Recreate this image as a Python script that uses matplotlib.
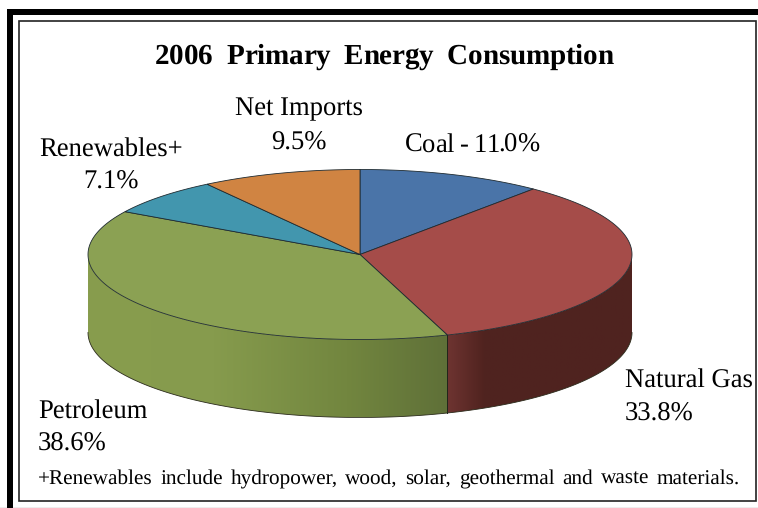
import numpy as np
import matplotlib
matplotlib.use('Agg')
import matplotlib.pyplot as plt
from matplotlib.colors import LinearSegmentedColormap
from matplotlib.patches import PathPatch, Polygon, Rectangle
from matplotlib.path import Path

# Share of consumption in percent, clockwise from twelve o'clock
sources = ['Coal', 'Natural Gas', 'Petroleum', 'Renewables+', 'Net Imports']
shares = [11.0, 33.8, 38.6, 7.1, 9.5]
top_colors = ['#4A74A8', '#A54C49', '#8BA153', '#4296AE', '#D08442']
title = '2006  Primary  Energy  Consumption'
footnote = '+Renewables include hydropower, wood, solar, geothermal and waste materials.'

# Pie geometry in image pixels
CX, CY = 360, 254.5
RX, RY = 272, 85
DEPTH = 78

plt.rcParams['font.family'] = ['Liberation Serif', 'DejaVu Serif']
plt.rcParams['text.hinting'] = 'no_hinting'

fig = plt.figure(figsize=(7.58, 5.08), dpi=100)
ax = fig.add_axes([0, 0, 1, 1])
ax.set_xlim(0, 758)
ax.set_ylim(508, 0)
ax.axis('off')
renderer = fig.canvas.get_renderer()


def rim(start, end, n=120):
    """Points on the top ellipse, angles in degrees clockwise from the top."""
    t = np.radians(np.linspace(start, end, n))
    return np.column_stack([CX + RX * np.sin(t), CY - RY * np.cos(t)])


def text_width(s, **kw):
    probe = ax.text(0, 0, s + '|', **kw)
    bar = ax.text(0, 0, '|', **kw)
    width = probe.get_window_extent(renderer).width - bar.get_window_extent(renderer).width
    probe.remove()
    bar.remove()
    return width


def spaced_text(x0, x1, y, s, **kw):
    """Draw s from x0 to x1 with even letter spacing, matplotlib has no tracking."""
    extra = (x1 - x0 - text_width(s, **kw)) / (len(s) - 1)
    for i, ch in enumerate(s):
        if ch != ' ':
            ax.text(x0 + text_width(s[:i], **kw) + extra * i, y, ch,
                    ha='left', va='baseline', **kw)


def spaced_words(x0, x1, y, s, **kw):
    """Same idea as spaced_text but only the gaps between words grow."""
    words = s.split(' ')
    extra = (x1 - x0 - text_width(s, **kw)) / (len(words) - 1)
    for i, word in enumerate(words):
        prefix = ' '.join(words[:i]) + ' ' if i else ''
        ax.text(x0 + text_width(prefix, **kw) + extra * i, y, word,
                ha='left', va='baseline', **kw)


def draw_frame():
    ax.add_patch(Rectangle((0, 506.5), 758, 2, fc='#EEEEEE', ec='none'))
    ax.add_patch(Rectangle((7, 9), 751, 6, fc='black', ec='none'))
    ax.add_patch(Rectangle((7, 9), 6, 499, fc='black', ec='none'))
    ax.add_patch(Rectangle((19.3, 21), 736.7, 480, fc='white', ec='#222222', lw=1.2))


def draw_wall(start, end, stops):
    """Side wall of a slice, shaded left to right and clipped to its outline."""
    edge = rim(start, end)
    outline = np.vstack([edge, edge[::-1] + [0, DEPTH]])
    poly = Polygon(outline, closed=True, fc='none', ec='none', zorder=3)
    ax.add_patch(poly)
    x0, x1 = outline[:, 0].min(), outline[:, 0].max()
    y0, y1 = outline[:, 1].min(), outline[:, 1].max()
    cmap = LinearSegmentedColormap.from_list('wall', stops)
    img = ax.imshow(np.linspace(0, 1, 256).reshape(1, -1), cmap=cmap, aspect='auto',
                    extent=(x0, x1, y1, y0), zorder=2)
    img.set_clip_path(poly)
    ax.plot(edge[:, 0], edge[:, 1] + DEPTH, color='#2A2A1A', lw=0.6, zorder=3)


def draw_pie():
    bounds = np.concatenate([[0], np.cumsum(shares)]) * 3.6
    # only the part of the wall facing the viewer (right edge round to left edge)
    draw_wall(max(bounds[1], 90), bounds[2], [(0, '#6E3431'), (0.2, '#50231F'), (1, '#4F2320')])
    draw_wall(bounds[2], 270, [(0, '#889D4E'), (0.35, '#869B4D'), (0.72, '#72863F'), (1, '#5F7038')])
    seam = rim(bounds[2], bounds[2], n=1)[0]
    ax.plot([seam[0], seam[0]], [seam[1], seam[1] + DEPTH], color='#1E2418', lw=0.7, zorder=3)

    for i, color in enumerate(top_colors):
        edge = rim(bounds[i], bounds[i + 1])
        verts = np.vstack([[CX, CY], edge, [CX, CY]])
        codes = [Path.MOVETO] + [Path.LINETO] * (len(verts) - 1)
        ax.add_patch(PathPatch(Path(verts, codes), fc=color, ec='#1E2A30', lw=0.6, zorder=4))


def draw_text():
    spaced_text(155, 613, 64, title, fontsize=21, fontweight='bold')
    size = 19.2
    ax.text(298.5, 115, sources[4], fontsize=size, ha='center', va='baseline')
    ax.text(298.5, 150, f'{shares[4]:.1f}%', fontsize=size, ha='center', va='baseline')
    ax.text(111, 157, sources[3], fontsize=size, ha='center', va='baseline')
    ax.text(111, 189, f'{shares[3]:.1f}%', fontsize=size, ha='center', va='baseline')
    spaced_text(405, 539, 152, f'{sources[0]} - {shares[0]:.1f}%', fontsize=size)
    ax.text(625, 388, sources[1], fontsize=size, ha='left', va='baseline')
    ax.text(625, 421, f'{shares[1]:.1f}%', fontsize=size, ha='left', va='baseline')
    ax.text(38, 419, sources[2], fontsize=size, ha='left', va='baseline')
    ax.text(38, 451, f'{shares[2]:.1f}%', fontsize=size, ha='left', va='baseline')
    spaced_words(38, 740, 484, footnote, fontsize=15.3)


draw_frame()
draw_pie()
draw_text()
ax.set_xlim(0, 758)
ax.set_ylim(508, 0)

fig.savefig('out.png', dpi=100)
